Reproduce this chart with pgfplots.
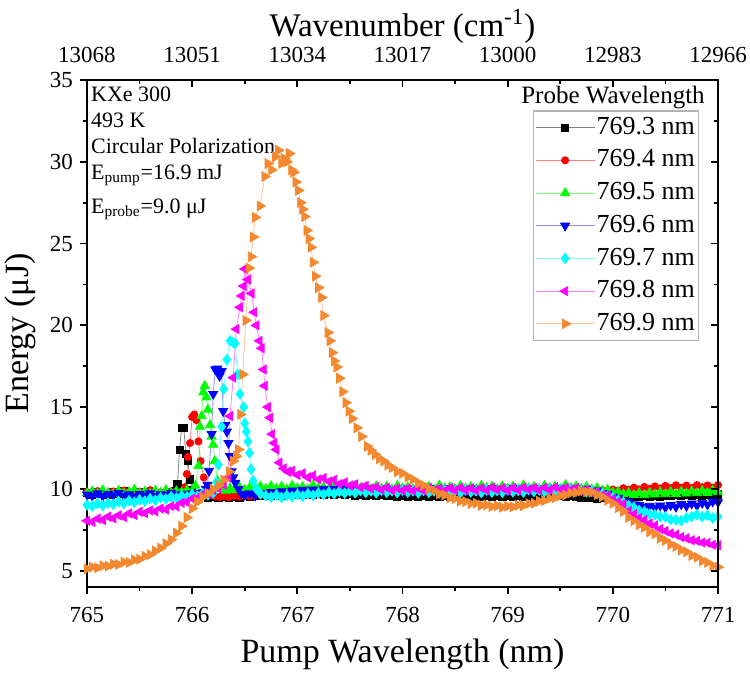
\documentclass[border=0pt]{standalone}
\usepackage{fontspec}
\setmainfont{Liberation Serif}
\usepackage{pgfplots}
\pgfplotsset{compat=1.18}
\definecolor{myorange}{RGB}{242,137,48}
\definecolor{myred}{RGB}{255,0,0}
\definecolor{mygreen}{RGB}{0,255,0}
\definecolor{myblue}{RGB}{0,0,255}
\definecolor{mycyan}{RGB}{0,255,255}
\definecolor{mymagenta}{RGB}{255,0,255}
\definecolor{myblack}{RGB}{0,0,0}
\begin{document}
\begin{tikzpicture}
\pgfplotsset{
  every axis/.append style={
    width=315.5pt, height=253.5pt, scale only axis,
    xmin=765, xmax=771, ymin=4, ymax=35,
    axis line style={line width=1pt},
    major tick length=3.5pt, minor tick length=2.2pt,
    every tick/.style={black, line width=0.9pt},
    tick label style={font=\fontsize{11.5}{13}\selectfont},
    /pgf/number format/assume math mode=true,
  }
}
\begin{axis}[
  at={(0,0)}, anchor=south west,
  xtick={765,...,771}, minor x tick num=1,
  ytick={5,10,...,35}, minor y tick num=1,
  xtick pos=left, ytick pos=left, tick align=outside,
  xticklabel style={yshift=-3pt},
  xlabel={Pump Wavelength (nm)}, ylabel={Energy (μJ)},
  label style={font=\fontsize{17}{20}\selectfont},
  xlabel style={yshift=-1.5pt},
  legend style={at={(0.970,0.940)}, anchor=north east, draw=gray!60, line width=0.6pt,
    font=\fontsize{13}{15}\selectfont, inner sep=1pt, row sep=1.75pt,
    nodes={inner sep=0.8pt, text height=9.8pt, text depth=3.2pt}},
  legend cell align=left,
  legend image code/.code={\draw[mark repeat=2,mark phase=2,#1] plot coordinates {(0pt,0pt) (14.75pt,0pt) (29.5pt,0pt)};},
]
% 769.3 nm
\addplot[color=myblack!50, line width=0.4pt, mark=square*, mark size=1.8pt, mark options={draw=myblack, fill=myblack}] coordinates {
(765.00,9.77)(765.05,9.64)(765.10,9.82)(765.15,9.70)(765.20,9.62)(765.25,9.79)(765.30,9.68)(765.35,9.84)(765.40,9.72)(765.45,9.65)
(765.50,9.78)(765.55,9.69)(765.60,9.81)(765.65,9.67)(765.70,9.74)(765.75,9.63)(765.80,9.80)(765.84,9.90)(765.86,10.27)(765.88,12.40)
(765.90,13.75)(765.92,13.75)(765.94,12.15)(765.96,11.70)(765.98,10.58)(766.00,9.95)(766.03,9.70)(766.06,9.62)(766.10,9.55)(766.15,9.48)
(766.20,9.52)(766.25,9.45)(766.30,9.50)(766.35,9.46)(766.40,9.53)(766.45,9.47)(766.50,9.55)(766.55,9.51)(766.60,9.58)(766.65,9.55)
(766.70,9.62)(766.75,9.58)(766.80,9.65)(766.85,9.60)(766.90,9.68)(766.95,9.63)(767.00,9.70)(767.05,9.64)(767.10,9.72)(767.15,9.66)
(767.20,9.71)(767.25,9.63)(767.30,9.69)(767.35,9.65)(767.40,9.70)(767.45,9.62)(767.50,9.68)(767.55,9.60)(767.60,9.66)(767.65,9.58)
(767.70,9.64)(767.75,9.57)(767.80,9.62)(767.85,9.55)(767.90,9.60)(767.95,9.54)(768.00,9.58)(768.05,9.52)(768.10,9.57)(768.15,9.53)
(768.20,9.59)(768.25,9.52)(768.30,9.56)(768.35,9.50)(768.40,9.57)(768.45,9.53)(768.50,9.58)(768.55,9.51)(768.60,9.56)(768.65,9.52)
(768.70,9.58)(768.75,9.53)(768.80,9.57)(768.85,9.50)(768.90,9.55)(768.95,9.51)(769.00,9.57)(769.05,9.52)(769.10,9.58)(769.15,9.53)
(769.20,9.59)(769.25,9.54)(769.30,9.60)(769.35,9.55)(769.40,9.61)(769.45,9.56)(769.50,9.60)(769.55,9.53)(769.60,9.55)(769.65,9.49)
(769.70,9.48)(769.75,9.44)(769.80,9.46)(769.85,9.42)(769.90,9.45)(769.95,9.43)(770.00,9.48)(770.05,9.45)(770.10,9.52)(770.15,9.48)
(770.20,9.54)(770.25,9.50)(770.30,9.56)(770.35,9.52)(770.40,9.58)(770.45,9.54)(770.50,9.60)(770.55,9.55)(770.60,9.62)(770.65,9.57)
(770.70,9.63)(770.75,9.58)(770.80,9.64)(770.85,9.59)(770.90,9.65)(770.95,9.60)(771.00,9.66)
};
\addlegendentry{769.3 nm}
% 769.4 nm
\addplot[color=myred!50, line width=0.4pt, mark=*, mark size=1.8pt, mark options={draw=myred, fill=myred}] coordinates {
(765.00,9.80)(765.05,9.72)(765.10,9.86)(765.15,9.75)(765.20,9.68)(765.25,9.84)(765.30,9.73)(765.35,9.90)(765.40,9.77)(765.45,9.70)
(765.50,9.83)(765.55,9.74)(765.60,9.92)(765.65,9.73)(765.70,9.79)(765.75,9.70)(765.80,9.85)(765.85,9.76)(765.90,9.82)(765.93,10.10)
(765.95,10.90)(765.96,11.95)(765.98,12.80)(766.00,14.40)(766.02,14.55)(766.04,14.20)(766.06,12.90)(766.08,11.70)(766.11,10.70)(766.14,10.05)
(766.18,9.65)(766.22,9.55)(766.26,9.50)(766.30,9.56)(766.35,9.49)(766.40,9.58)(766.45,9.52)(766.50,9.60)(766.55,9.55)(766.60,9.66)
(766.65,9.62)(766.70,9.74)(766.75,9.70)(766.80,9.82)(766.85,9.78)(766.90,9.88)(766.95,9.84)(767.00,9.92)(767.05,9.86)(767.10,9.95)
(767.15,9.89)(767.20,10.00)(767.25,9.90)(767.30,9.97)(767.35,9.88)(767.40,10.02)(767.45,9.91)(767.50,9.98)(767.55,9.87)(767.60,10.03)
(767.65,9.92)(767.70,9.97)(767.75,9.86)(767.80,10.01)(767.85,9.90)(767.90,9.96)(767.95,9.87)(768.00,10.05)(768.05,9.92)(768.10,9.98)
(768.15,9.89)(768.20,10.08)(768.25,9.93)(768.30,9.99)(768.35,9.88)(768.40,10.03)(768.45,9.91)(768.50,9.97)(768.55,9.88)(768.60,10.02)
(768.65,9.93)(768.70,9.99)(768.75,9.89)(768.80,10.04)(768.85,9.92)(768.90,9.98)(768.95,9.90)(769.00,10.06)(769.05,9.94)(769.10,10.00)
(769.15,9.91)(769.20,10.05)(769.25,9.95)(769.30,10.01)(769.35,9.92)(769.40,10.07)(769.45,9.96)(769.50,10.02)(769.55,9.93)(769.60,10.06)
(769.65,9.95)(769.70,9.99)(769.75,9.90)(769.80,9.94)(769.85,9.86)(769.90,9.92)(769.95,9.85)(770.00,9.96)(770.05,9.90)(770.10,10.04)
(770.15,9.95)(770.20,10.08)(770.25,9.97)(770.30,10.12)(770.35,10.00)(770.40,10.15)(770.45,10.03)(770.50,10.18)(770.55,10.05)(770.60,10.22)
(770.65,10.08)(770.70,10.20)(770.75,10.06)(770.80,10.23)(770.85,10.10)(770.90,10.21)(770.95,10.08)(771.00,10.24)
};
\addlegendentry{769.4 nm}
% 769.5 nm
\addplot[color=mygreen!50, line width=0.4pt, mark=triangle*, mark size=2.6pt, mark options={draw=mygreen, fill=mygreen}] coordinates {
(765.00,9.74)(765.05,9.85)(765.10,9.70)(765.15,9.92)(765.20,9.76)(765.25,9.68)(765.30,9.88)(765.35,9.73)(765.40,9.81)(765.45,9.95)
(765.50,9.72)(765.55,9.84)(765.60,9.70)(765.65,9.90)(765.70,9.77)(765.75,9.93)(765.80,9.74)(765.85,9.86)(765.90,9.78)(765.95,9.92)
(766.00,9.80)(766.03,10.20)(766.06,11.40)(766.075,13.80)(766.09,14.45)(766.105,15.90)(766.12,16.30)(766.135,15.60)(766.15,14.85)(766.17,13.90)
(766.185,13.20)(766.20,12.70)(766.215,11.70)(766.24,10.50)(766.28,10.00)(766.32,9.90)(766.36,10.05)(766.40,9.92)(766.45,10.10)(766.50,9.95)
(766.55,10.12)(766.60,9.98)(766.65,10.15)(766.70,10.00)(766.75,10.18)(766.80,10.02)(766.85,10.14)(766.90,9.98)(766.95,10.20)(767.00,10.03)
(767.05,10.12)(767.10,9.97)(767.15,10.22)(767.20,10.04)(767.25,10.10)(767.30,9.98)(767.35,10.18)(767.40,10.02)(767.45,10.13)(767.50,9.96)
(767.55,10.20)(767.60,10.04)(767.65,10.11)(767.70,9.99)(767.75,10.16)(767.80,10.01)(767.85,10.14)(767.90,9.97)(767.95,10.19)(768.00,10.03)
(768.05,10.10)(768.10,9.98)(768.15,10.17)(768.20,10.02)(768.25,10.13)(768.30,9.96)(768.35,10.21)(768.40,10.04)(768.45,10.11)(768.50,9.99)
(768.55,10.18)(768.60,10.03)(768.65,10.12)(768.70,9.97)(768.75,10.20)(768.80,10.05)(768.85,10.13)(768.90,9.98)(768.95,10.16)(769.00,10.02)
(769.05,10.14)(769.10,9.99)(769.15,10.22)(769.20,10.04)(769.25,10.12)(769.30,9.98)(769.35,10.19)(769.40,10.05)(769.45,10.13)(769.50,10.00)
(769.55,10.24)(769.60,10.06)(769.65,10.15)(769.70,10.00)(769.75,10.12)(769.80,9.96)(769.85,10.05)(769.90,9.90)(769.95,9.95)(770.00,9.78)
(770.05,9.82)(770.10,9.68)(770.15,9.76)(770.20,9.64)(770.25,9.75)(770.30,9.62)(770.35,9.77)(770.40,9.66)(770.45,9.80)(770.50,9.68)
(770.55,9.82)(770.60,9.70)(770.65,9.84)(770.70,9.72)(770.75,9.86)(770.80,9.74)(770.85,9.88)(770.90,9.76)(770.95,9.90)(771.00,9.80)
};
\addlegendentry{769.5 nm}
% 769.6 nm
\addplot[color=myblue!45, line width=0.4pt, mark=triangle*, mark size=2.6pt, mark options={draw=myblue, fill=myblue, rotate=180}] coordinates {
(765.00,9.65)(765.05,9.58)(765.10,9.72)(765.15,9.55)(765.20,9.68)(765.25,9.60)(765.30,9.74)(765.35,9.57)(765.40,9.66)(765.45,9.52)
(765.50,9.70)(765.55,9.59)(765.60,9.73)(765.65,9.56)(765.70,9.67)(765.75,9.61)(765.80,9.75)(765.85,9.62)(765.90,9.70)(765.95,9.60)
(766.00,9.72)(766.05,9.64)(766.10,9.78)(766.13,10.00)(766.145,10.25)(766.16,11.10)(766.185,13.35)(766.20,15.80)(766.22,17.30)(766.24,17.35)
(766.26,16.90)(766.28,17.20)(766.295,14.75)(766.315,13.90)(766.33,13.50)(766.345,12.80)(766.36,12.00)(766.375,11.07)(766.39,10.70)(766.41,10.36)
(766.44,10.00)(766.47,9.70)(766.50,9.62)(766.55,9.72)(766.60,9.58)(766.65,9.75)(766.70,9.66)(766.75,9.80)(766.80,9.70)(766.85,9.85)
(766.90,9.76)(766.95,9.90)(767.00,9.80)(767.05,9.94)(767.10,9.84)(767.15,9.96)(767.20,9.86)(767.25,10.00)(767.30,9.88)(767.35,9.98)
(767.40,9.86)(767.45,10.02)(767.50,9.90)(767.55,9.97)(767.60,9.85)(767.65,10.03)(767.70,9.89)(767.75,9.98)(767.80,9.86)(767.85,10.01)
(767.90,9.88)(767.95,9.96)(768.00,9.85)(768.05,10.02)(768.10,9.90)(768.15,9.99)(768.20,9.87)(768.25,10.04)(768.30,9.91)(768.35,9.97)
(768.40,9.86)(768.45,10.03)(768.50,9.89)(768.55,9.98)(768.60,9.87)(768.65,10.02)(768.70,9.90)(768.75,9.99)(768.80,9.88)(768.85,10.05)
(768.90,9.92)(768.95,10.00)(769.00,9.89)(769.05,10.04)(769.10,9.91)(769.15,10.01)(769.20,9.90)(769.25,10.06)(769.30,9.93)(769.35,10.02)
(769.40,9.91)(769.45,10.05)(769.50,9.94)(769.55,10.03)(769.60,9.92)(769.65,10.04)(769.70,9.95)(769.75,10.00)(769.80,9.88)(769.85,9.90)
(769.90,9.74)(769.95,9.70)(770.00,9.52)(770.05,9.45)(770.10,9.28)(770.15,9.20)(770.20,9.05)(770.25,9.00)(770.30,8.88)(770.35,8.96)
(770.40,8.85)(770.45,8.98)(770.50,8.86)(770.55,9.00)(770.60,8.90)(770.65,9.06)(770.70,8.95)(770.75,9.10)(770.80,8.98)(770.85,9.14)
(770.90,9.04)(770.95,9.22)(771.00,9.18)
};
\addlegendentry{769.6 nm}
% 769.7 nm
\addplot[color=mycyan!50, line width=0.4pt, mark=diamond*, mark size=2.6pt, mark options={draw=mycyan, fill=mycyan}] coordinates {
(765.00,9.02)(765.05,8.95)(765.10,9.10)(765.15,8.98)(765.20,9.14)(765.25,9.06)(765.30,9.22)(765.35,9.10)(765.40,9.28)(765.45,9.18)
(765.50,9.33)(765.55,9.25)(765.60,9.40)(765.65,9.30)(765.70,9.45)(765.75,9.38)(765.80,9.52)(765.85,9.44)(765.90,9.58)(765.95,9.50)
(766.00,9.64)(766.05,9.56)(766.10,9.70)(766.15,9.64)(766.20,9.75)(766.23,10.40)(766.25,11.48)(766.28,13.80)(766.30,16.10)(766.33,17.90)
(766.36,19.05)(766.39,18.95)(766.41,18.90)(766.43,17.00)(766.455,15.80)(766.49,15.00)(766.50,14.00)(766.515,13.50)(766.53,12.90)(766.545,12.20)
(766.56,11.20)(766.58,10.50)(766.61,10.00)(766.65,9.70)(766.70,9.58)(766.75,9.50)(766.80,9.62)(766.85,9.48)(766.90,9.60)(766.95,9.52)
(767.00,9.66)(767.05,9.55)(767.10,9.70)(767.15,9.60)(767.20,9.74)(767.25,9.65)(767.30,9.80)(767.35,9.70)(767.40,9.84)(767.45,9.74)
(767.50,9.86)(767.55,9.76)(767.60,9.90)(767.65,9.78)(767.70,9.88)(767.75,9.76)(767.80,9.92)(767.85,9.79)(767.90,9.89)(767.95,9.77)
(768.00,9.93)(768.05,9.80)(768.10,9.88)(768.15,9.76)(768.20,9.91)(768.25,9.79)(768.30,9.87)(768.35,9.75)(768.40,9.92)(768.45,9.80)
(768.50,9.89)(768.55,9.77)(768.60,9.94)(768.65,9.81)(768.70,9.88)(768.75,9.78)(768.80,9.93)(768.85,9.80)(768.90,9.90)(768.95,9.79)
(769.00,9.95)(769.05,9.82)(769.10,9.91)(769.15,9.80)(769.20,9.96)(769.25,9.84)(769.30,9.93)(769.35,9.82)(769.40,9.98)(769.45,9.86)
(769.50,9.95)(769.55,9.84)(769.60,9.97)(769.65,9.86)(769.70,9.92)(769.75,9.82)(769.80,9.85)(769.85,9.72)(769.90,9.70)(769.95,9.55)
(770.00,9.48)(770.05,9.30)(770.10,9.18)(770.15,8.98)(770.20,8.86)(770.25,8.68)(770.30,8.60)(770.35,8.45)(770.40,8.42)(770.45,8.30)
(770.50,8.28)(770.55,8.12)(770.60,8.10)(770.65,8.06)(770.70,8.22)(770.75,8.30)(770.80,8.42)(770.85,8.30)(770.90,8.38)(770.95,8.22)
(771.00,8.30)
};
\addlegendentry{769.7 nm}
% 769.8 nm
\addplot[color=mymagenta!50, line width=0.4pt, mark=triangle*, mark size=2.6pt, mark options={draw=mymagenta, fill=mymagenta, rotate=90}] coordinates {
(765.00,8.05)(765.05,7.98)(765.10,8.18)(765.15,8.10)(765.20,8.30)(765.25,8.20)(765.30,8.38)(765.35,8.28)(765.40,8.50)(765.45,8.40)
(765.50,8.60)(765.55,8.52)(765.60,8.68)(765.65,8.62)(765.70,8.80)(765.75,8.74)(765.80,8.95)(765.85,8.92)(765.90,9.15)(765.95,9.18)
(766.00,9.40)(766.05,9.45)(766.10,9.66)(766.15,9.72)(766.20,9.92)(766.25,10.02)(766.30,10.25)(766.34,10.70)(766.36,14.45)(766.39,16.80)
(766.42,19.77)(766.455,21.10)(766.47,21.80)(766.49,22.40)(766.50,23.45)(766.53,22.80)(766.565,21.95)(766.59,20.80)(766.61,20.00)(766.64,19.05)
(766.66,18.60)(766.68,17.30)(766.69,16.30)(766.72,15.00)(766.74,14.35)(766.76,13.35)(766.78,12.80)(766.80,12.40)(766.83,11.60)(766.87,11.25)
(766.91,11.05)(766.95,11.10)(767.00,10.85)(767.05,10.95)(767.10,10.70)(767.15,10.82)(767.20,10.58)(767.25,10.66)(767.30,10.45)(767.35,10.55)
(767.40,10.30)(767.45,10.40)(767.50,10.20)(767.55,10.28)(767.60,10.10)(767.65,10.18)(767.70,10.02)(767.75,10.12)(767.80,9.96)(767.85,10.08)
(767.90,9.92)(767.95,10.04)(768.00,9.90)(768.05,10.02)(768.10,9.88)(768.15,10.04)(768.20,9.90)(768.25,10.06)(768.30,9.92)(768.35,10.03)
(768.40,9.89)(768.45,10.05)(768.50,9.91)(768.55,10.07)(768.60,9.93)(768.65,10.04)(768.70,9.90)(768.75,10.06)(768.80,9.92)(768.85,10.08)
(768.90,9.94)(768.95,10.05)(769.00,9.91)(769.05,10.07)(769.10,9.93)(769.15,10.09)(769.20,9.95)(769.25,10.06)(769.30,9.92)(769.35,10.08)
(769.40,9.94)(769.45,10.10)(769.50,9.96)(769.55,10.07)(769.60,9.94)(769.65,10.05)(769.70,9.88)(769.75,9.95)(769.80,9.78)(769.85,9.80)
(769.90,9.62)(769.95,9.58)(770.00,9.38)(770.05,9.22)(770.10,9.08)(770.15,8.65)(770.20,8.45)(770.25,8.22)(770.30,8.10)(770.35,7.88)
(770.40,7.76)(770.45,7.55)(770.50,7.42)(770.55,7.28)(770.60,7.20)(770.65,7.05)(770.70,6.98)(770.75,6.86)(770.80,6.82)(770.85,6.72)
(770.90,6.70)(770.95,6.58)(771.00,6.55)
};
\addlegendentry{769.8 nm}
% 769.9 nm
\addplot[color=myorange!50, line width=0.4pt, mark=triangle*, mark size=2.8pt, mark options={draw=myorange, fill=myorange, rotate=-90}] coordinates {
(765.00,5.12)(765.05,5.22)(765.10,5.18)(765.15,5.30)(765.20,5.28)(765.25,5.40)(765.30,5.38)(765.35,5.52)(765.40,5.50)(765.45,5.66)
(765.50,5.70)(765.55,5.88)(765.60,5.98)(765.65,6.20)(765.70,6.38)(765.75,6.65)(765.80,6.90)(765.85,7.30)(765.90,7.72)(765.95,8.25)
(766.00,8.80)(766.05,9.20)(766.10,9.50)(766.15,9.72)(766.20,9.98)(766.25,10.22)(766.30,10.55)(766.35,11.05)(766.39,11.70)(766.42,12.00)
(766.44,12.40)(766.46,14.55)(766.48,17.00)(766.51,20.30)(766.54,23.50)(766.56,24.20)(766.58,25.40)(766.60,26.60)(766.645,27.30)(766.69,29.10)
(766.72,29.90)(766.755,29.50)(766.79,30.30)(766.82,30.70)(766.85,29.90)(766.875,30.20)(766.90,30.00)(766.925,30.50)(766.945,29.50)(766.965,29.35)
(766.985,28.76)(767.01,28.25)(767.03,27.50)(767.05,27.10)(767.07,26.65)(767.09,25.80)(767.11,25.30)(767.13,24.77)(767.15,23.85)(767.17,23.00)
(767.20,22.30)(767.23,21.70)(767.25,20.60)(767.29,19.56)(767.31,19.05)(767.33,18.33)(767.35,17.82)(767.375,17.45)(767.40,16.76)(767.43,15.94)
(767.46,15.27)(767.49,14.75)(767.52,14.30)(767.565,13.73)(767.61,13.20)(767.665,12.60)(767.70,12.35)(767.74,12.10)(767.78,11.85)(767.82,11.70)
(767.86,11.45)(767.90,11.30)(767.95,11.05)(768.00,10.95)(768.05,10.72)(768.10,10.58)(768.15,10.35)(768.20,10.22)(768.25,10.00)(768.30,9.90)
(768.35,9.70)(768.40,9.62)(768.45,9.45)(768.50,9.40)(768.55,9.25)(768.60,9.22)(768.65,9.10)(768.70,9.12)(768.75,9.00)(768.80,9.02)
(768.85,8.92)(768.90,8.96)(768.95,8.88)(769.00,8.94)(769.05,8.90)(769.10,9.00)(769.15,8.98)(769.20,9.10)(769.25,9.12)(769.30,9.25)
(769.35,9.28)(769.40,9.42)(769.45,9.45)(769.50,9.58)(769.55,9.62)(769.60,9.75)(769.65,9.78)(769.70,9.88)(769.75,9.82)(769.80,9.80)
(769.85,9.65)(769.90,9.52)(769.95,9.30)(770.00,9.12)(770.05,8.85)(770.10,8.62)(770.15,8.25)(770.20,8.05)(770.25,7.80)(770.30,7.65)
(770.35,7.38)(770.40,7.25)(770.45,6.98)(770.50,6.85)(770.55,6.60)(770.60,6.48)(770.65,6.25)(770.70,6.15)(770.75,5.92)(770.80,5.82)
(770.85,5.60)(770.90,5.50)(770.95,5.30)(771.00,5.22)
};
\addlegendentry{769.9 nm}
\node[anchor=north west, align=left, font=\fontsize{11}{13}\selectfont, inner sep=0pt] at (rel axis cs:0.006,0.987)
  {KXe 300\\493 K\\Circular Polarization\\E\textsubscript{pump}=16.9 mJ\\[4pt]E\textsubscript{probe}=9.0 μJ};
\node[font=\fontsize{12.5}{15}\selectfont, anchor=base] at (rel axis cs:0.8336,0.954) {Probe Wavelength};
\end{axis}
\begin{axis}[
  at={(0,0)}, anchor=south west,
  axis x line*=top, axis y line*=right,
  xtick={765,...,771}, xticklabels={13068,13051,13034,13017,13000,12983,12966},
  minor x tick num=1,
  ytick={5,10,...,35}, yticklabels={}, minor y tick num=1,
  tick align=inside,
  xticklabel style={yshift=5pt},
  xlabel={Wavenumber (cm\textsuperscript{-1})},
  label style={font=\fontsize{16.5}{20}\selectfont},
  xlabel style={yshift=-5pt},
]
\end{axis}
\pgfresetboundingbox
\path[use as bounding box] (-43.5pt,-43.5pt) rectangle (331.5pt,293.5pt);
\end{tikzpicture}
\end{document}
